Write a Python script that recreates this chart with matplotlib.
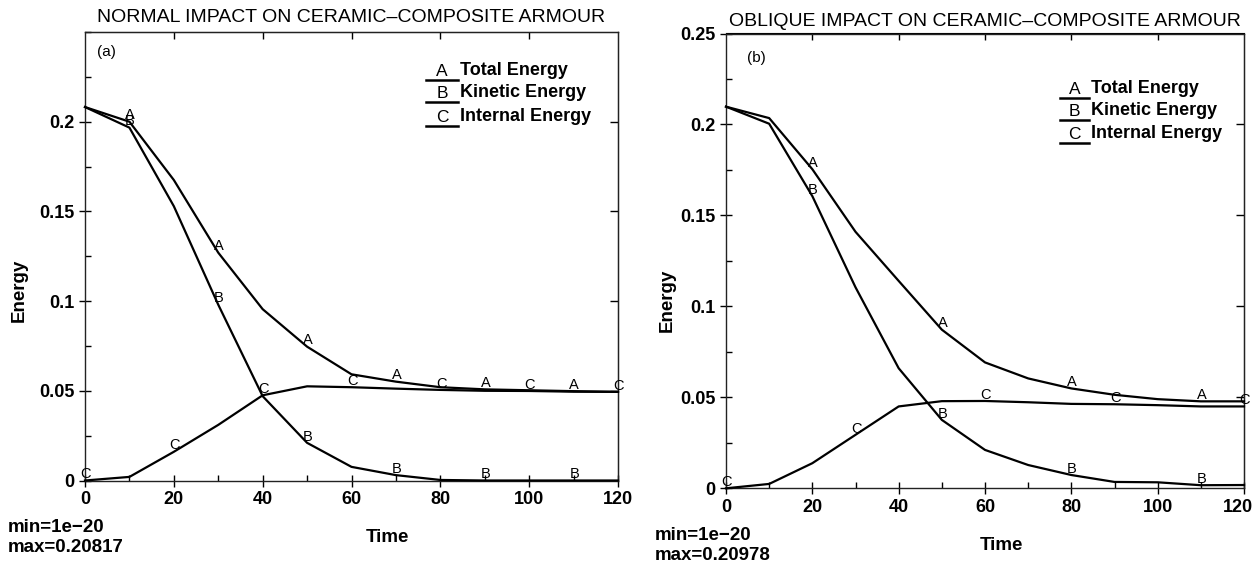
import matplotlib
matplotlib.use("Agg")
import matplotlib.pyplot as plt
from matplotlib.ticker import MultipleLocator
from matplotlib.transforms import ScaledTranslation

plt.rcParams['font.family'] = ['Liberation Sans', 'DejaVu Sans']

# ---------------- data ----------------
time = [0, 10, 20, 30, 40, 50, 60, 70, 80, 90, 100, 110, 120]

total_a = [0.20817, 0.2000, 0.1675, 0.1270, 0.0955, 0.0746, 0.0592, 0.0551, 0.0520, 0.0508, 0.0503, 0.0498, 0.0494]
kinetic_a = [0.20817, 0.1967, 0.1529, 0.0980, 0.0470, 0.0210, 0.0076, 0.0030, 0.0003, 0.0, 0.0, 0.0, 0.0]
internal_a = [0.0, 0.0020, 0.0160, 0.0310, 0.0475, 0.0525, 0.0520, 0.0512, 0.0505, 0.0500, 0.0499, 0.0495, 0.0494]

total_b = [0.20978, 0.2035, 0.1754, 0.1410, 0.1140, 0.0872, 0.0692, 0.0604, 0.0549, 0.0514, 0.0490, 0.0478, 0.0478]
kinetic_b = [0.20978, 0.2004, 0.1606, 0.1105, 0.0660, 0.0376, 0.0211, 0.0128, 0.0073, 0.0035, 0.0033, 0.0017, 0.0018]
internal_b = [0.0, 0.0024, 0.0138, 0.0294, 0.0450, 0.0479, 0.0480, 0.0473, 0.0464, 0.0462, 0.0457, 0.0450, 0.0450]

label_t_ab_a = [10, 30, 50, 70, 90, 110]
label_t_c_a = [0, 20, 40, 60, 80, 100, 120]
label_t_ab_b = [20, 50, 80, 110]
label_t_c_b = [0, 30, 60, 90, 120]

x_ticks = [0, 20, 40, 60, 80, 100, 120]
x_tick_labels = ['0', '20', '40', '60', '80', '100', '120']
y_ticks_a = [0, 0.05, 0.1, 0.15, 0.2]
y_tick_labels_a = ['0', '0.05', '0.1', '0.15', '0.2']
y_ticks_b = [0, 0.05, 0.1, 0.15, 0.2, 0.25]
y_tick_labels_b = ['0', '0.05', '0.1', '0.15', '0.2', '0.25']

legend_letters = ['A', 'B', 'C']
legend_names = ['Total Energy', 'Kinetic Energy', 'Internal Energy']

titles = ['NORMAL IMPACT ON CERAMIC\u2013COMPOSITE ARMOUR',
          'OBLIQUE IMPACT ON CERAMIC\u2013COMPOSITE ARMOUR']
min_texts = ['min=1e\u221220', 'min=1e\u221220']
max_texts = ['max=0.20817', 'max=0.20978']
panel_tags = ['(a)', '(b)']

W, H = 1254, 564
fig = plt.figure(figsize=(W / 100, H / 100), dpi=100)


def px_axes(l, t, r, b):
    return fig.add_axes([l / W, 1 - b / H, (r - l) / W, (b - t) / H])


def ftext(x, y, s, **kw):
    fig.text(x / W, 1 - y / H, s, **kw)


ax_a = px_axes(85, 32, 618, 480.5)
ax_b = px_axes(726, 33.5, 1244, 488.3)


def interp(ts, ys, t):
    for i in range(len(ts) - 1):
        if ts[i] <= t <= ts[i + 1]:
            f = (t - ts[i]) / (ts[i + 1] - ts[i])
            return ys[i] + f * (ys[i + 1] - ys[i])
    return ys[-1]


def setup(ax, yt, ytl):
    ax.set_xlim(0, 120)
    ax.set_ylim(0, 0.25)
    ax.set_xticks(x_ticks)
    ax.set_xticklabels(x_tick_labels)
    ax.xaxis.set_minor_locator(MultipleLocator(10))
    ax.set_yticks(yt)
    ax.set_yticklabels(ytl)
    ax.yaxis.set_minor_locator(MultipleLocator(0.025))
    ax.tick_params(which='major', direction='inout', length=9, width=1,
                   labelsize=13, pad=3, colors='black')
    ax.tick_params(which='minor', direction='in', length=4, width=1,
                   bottom=True, left=True, top=False, right=False)
    for lab in ax.get_xticklabels() + ax.get_yticklabels():
        lab.set_fontweight('bold')
    for s in ax.spines.values():
        s.set_linewidth(1.0)
        s.set_color('#222222')
    sec_x = ax.secondary_xaxis('top')
    sec_x.set_xticks([20, 40, 60, 80, 100])
    sec_x.tick_params(direction='in', length=5, width=1, labeltop=False)
    sec_x.set_xticklabels([])
    sec_y = ax.secondary_yaxis('right')
    sec_y.set_yticks([0.05, 0.1, 0.15, 0.2])
    sec_y.tick_params(direction='in', length=6, width=1, labelright=False)
    sec_y.set_yticklabels([])


def draw(ax, tot, kin, inn, t_ab, t_c):
    for ys in (tot, kin, inn):
        ax.plot(time, ys, color='black', lw=1.6, clip_on=False, zorder=3)
    for t in t_ab:
        for letter, ys in (('A', tot), ('B', kin)):
            ax.annotate(letter, (t, interp(time, ys, t)), xytext=(0.5, -0.5),
                        textcoords='offset points', ha='center', va='bottom',
                        fontsize=10.5, annotation_clip=False)
    for t in t_c:
        ax.annotate('C', (t, interp(time, inn, t)), xytext=(0.5, -0.5),
                    textcoords='offset points', ha='center', va='bottom',
                    fontsize=10.5, annotation_clip=False)


setup(ax_a, y_ticks_a, y_tick_labels_a)
setup(ax_b, y_ticks_b, y_tick_labels_b)
draw(ax_a, total_a, kinetic_a, internal_a, label_t_ab_a, label_t_c_a)
draw(ax_b, total_b, kinetic_b, internal_b, label_t_ab_b, label_t_c_b)

# shift the last x tick label of panel (b) a little left so it stays inside
last_lab = ax_b.get_xticklabels()[-1]
last_lab.set_transform(last_lab.get_transform() +
                       ScaledTranslation(-6 / 100, 0, fig.dpi_scale_trans))

# legends (custom, letter over short underline)
leg_cfg = [
    (ax_a, 0.640, 0.700, [0.893, 0.844, 0.791]),
    (ax_b, 0.645, 0.701, [0.858, 0.810, 0.759]),
]
for ax, x0, x1, ys in leg_cfg:
    for letter, name, y in zip(legend_letters, legend_names, ys):
        ax.plot([x0, x1], [y, y], transform=ax.transAxes, color='black', lw=1.8,
                clip_on=False)
        ax.text((x0 + x1) / 2, y + 0.002, letter, transform=ax.transAxes,
                ha='center', va='bottom', fontsize=12.5)
        ax.text(x1 + 0.004, y + 0.002, name, transform=ax.transAxes,
                ha='left', va='bottom', fontsize=13, fontweight='bold')

# panel tags
ax_a.text(0.023, 0.955, panel_tags[0], transform=ax_a.transAxes, fontsize=11,
          ha='left', va='center')
ax_b.text(0.041, 0.947, panel_tags[1], transform=ax_b.transAxes, fontsize=11,
          ha='left', va='center')

# titles
ftext(351, 18, titles[0], ha='center', va='center', fontsize=14)
ftext(985, 22, titles[1], ha='center', va='center', fontsize=14)

# axis labels
ftext(19, 290, 'Energy', rotation=90, ha='center', va='center', fontsize=13.5,
      fontweight='bold')
ftext(667, 300, 'Energy', rotation=90, ha='center', va='center', fontsize=13.5,
      fontweight='bold')
ftext(387, 537, 'Time', ha='center', va='center', fontsize=13.5, fontweight='bold')
ftext(1001, 545, 'Time', ha='center', va='center', fontsize=13.5, fontweight='bold')

# min / max notes
ftext(8, 527, min_texts[0], ha='left', va='center', fontsize=13.5, fontweight='bold')
ftext(8, 548, max_texts[0], ha='left', va='center', fontsize=13.5, fontweight='bold')
ftext(655, 535, min_texts[1], ha='left', va='center', fontsize=13.5, fontweight='bold')
ftext(655, 556, max_texts[1], ha='left', va='center', fontsize=13.5, fontweight='bold')

fig.savefig('out.png', dpi=100)
